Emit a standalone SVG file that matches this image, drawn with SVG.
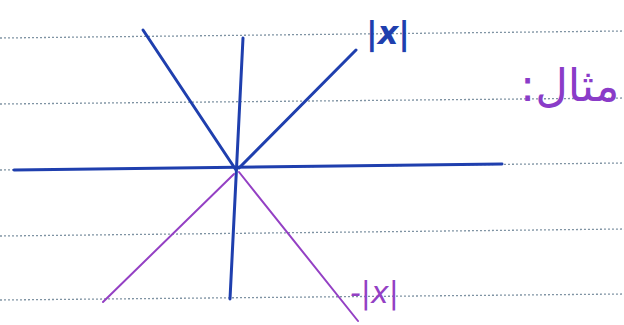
<svg xmlns="http://www.w3.org/2000/svg" width="624" height="325" viewBox="0 0 624 325">
<style>
.rule{stroke:#7f93a3;stroke-width:1.3;stroke-dasharray:2 2;fill:none}
.blue{stroke:#1f3fae;stroke-width:3;stroke-linecap:round;fill:none}
.purple{stroke:#9440c4;stroke-width:2;stroke-linecap:round;fill:none}
.hand{font-family:"DejaVu Sans",sans-serif;font-style:italic}
</style>
<rect width="624" height="325" fill="#ffffff"/>
<g id="paper-rules">
<line class="rule" x1="0" y1="38" x2="624" y2="31"/>
<line class="rule" x1="0" y1="104" x2="624" y2="98"/>
<line class="rule" x1="0" y1="170" x2="624" y2="163"/>
<line class="rule" x1="0" y1="236" x2="624" y2="229"/>
<line class="rule" x1="0" y1="300" x2="624" y2="294"/>
</g>
<g id="axes">
<line class="blue" x1="14" y1="170" x2="502" y2="164"/>
<line class="blue" x1="243" y1="38" x2="230" y2="299"/>
</g>
<g id="graph-abs">
<line class="blue" x1="143" y1="30" x2="236" y2="170"/>
<line class="blue" x1="239" y1="168" x2="356" y2="50"/>
</g>
<g id="graph-neg-abs">
<line class="purple" x1="234" y1="174" x2="103" y2="302"/>
<line class="purple" x1="239" y1="172" x2="358" y2="321"/>
</g>
<g id="labels">
<text class="hand" x="366" y="44" font-size="32" font-weight="bold" fill="#1f3fae">|x|</text>
<text class="hand" x="350" y="303" font-size="30" fill="#9440c4">-|x|</text>
<text x="520" y="101" font-size="45" fill="#8a3cc8" font-family="DejaVu Sans,sans-serif" direction="rtl" text-anchor="end">مثال:</text>
</g>
</svg>
